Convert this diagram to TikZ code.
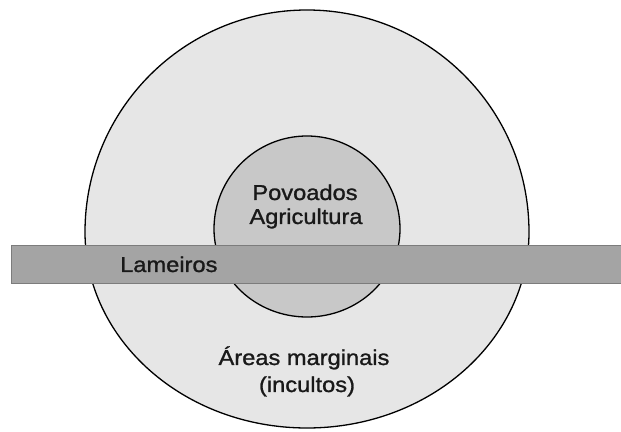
\documentclass[tikz,border=0pt]{standalone}
\usepackage{fontspec}
\setmainfont{Liberation Sans}[FakeStretch=1.1, FakeBold=1.2]
\definecolor{outerfill}{HTML}{E6E6E6}
\definecolor{innerfill}{HTML}{C8C8C8}
\definecolor{barfill}{HTML}{A4A4A4}
\definecolor{barline}{HTML}{7C7C7C}
\begin{document}
\begin{tikzpicture}[x=1pt,y=1pt,
  zone/.style={line width=1.3pt, draw=black},
  lbl/.style={anchor=base, inner sep=0pt, font=\fontsize{21.5pt}{24pt}\selectfont, text=black!90}]
\useasboundingbox (0,0) rectangle (621,431);
\fill[white] (0,0) rectangle (621,431);
% outer zone
\path[zone, fill=outerfill] (85,199) arc[start angle=180, end angle=0, radius=222pt]
  arc[start angle=0, end angle=-180, x radius=222pt, y radius=196pt] -- cycle;
% inner zone
\path[zone, fill=innerfill] (214,202) arc[start angle=180, end angle=0, radius=93pt]
  arc[start angle=0, end angle=-180, x radius=93pt, y radius=88pt] -- cycle;
% bar
\fill[barfill] (11,147) rectangle (622,185);
\draw[barline, line width=1pt] (622,185) -- (11,185) -- (11,147) -- (622,147);
% labels
\node[lbl] (pov) at (305,231) {Povoados};
\node[lbl] (agr) at (306,207) {Agricultura};
\node[lbl, anchor=base west] (lam) at (120,159) {Lameiros};
\node[lbl] (are) at (304,66) {Áreas marginais};
\node[lbl] (inc) at (307,39) {(incultos)};
\end{tikzpicture}
\end{document}
